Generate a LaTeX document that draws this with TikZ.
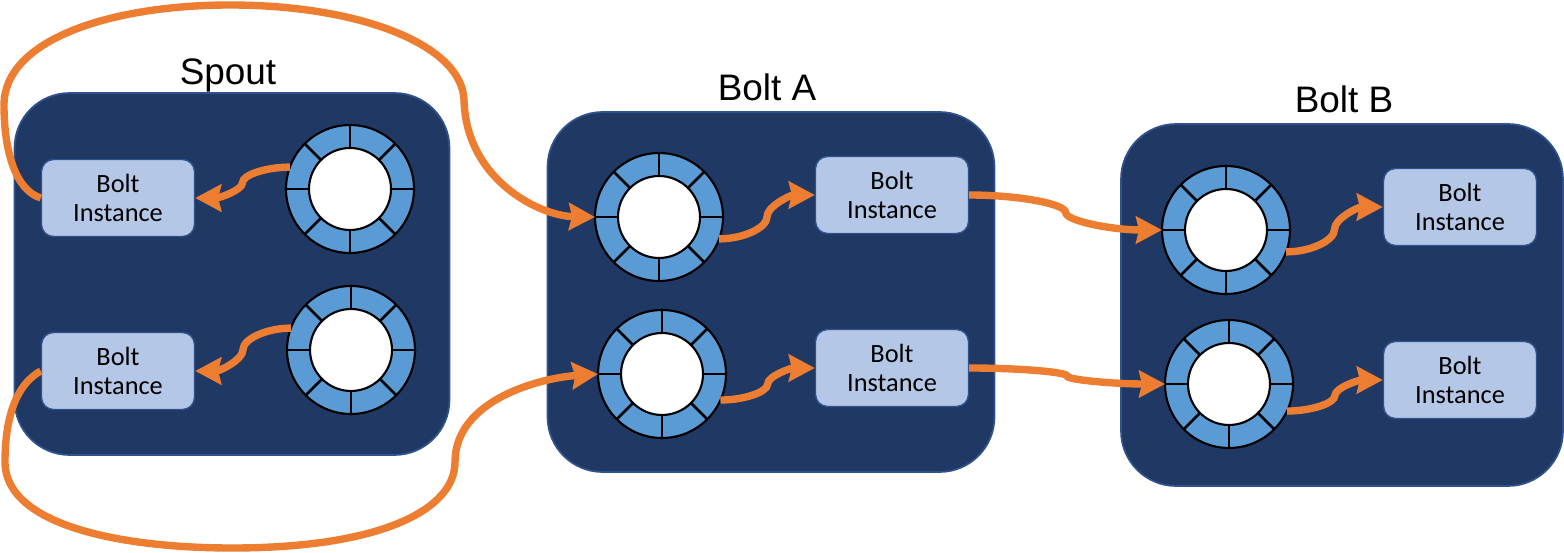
\documentclass[tikz,border=0pt]{standalone}
\usepackage{fontspec}
\setmainfont{Carlito}
\newfontfamily\titlefont{Liberation Sans}
\usetikzlibrary{arrows.meta,calc}

\definecolor{navy}{HTML}{203864}
\definecolor{edgeblue}{HTML}{2F528F}
\definecolor{lightblue}{HTML}{B4C7E7}
\definecolor{ringblue}{HTML}{5B9BD5}
\definecolor{flow}{HTML}{ED7D31}

\tikzset{
  stage/.style={rectangle, rounded corners=1.1cm, fill=navy, draw=edgeblue, line width=1pt},
  instance/.style={rectangle, rounded corners=0.24cm, fill=lightblue, draw=edgeblue,
    line width=0.8pt, minimum width=3.06cm, minimum height=1.54cm, align=center,
    font=\fontsize{15}{16.5}\selectfont},
  queue/.style={circle, fill=ringblue, draw=black, line width=1.2pt,
    minimum size=2.56cm, inner sep=0pt, outer sep=0pt},
  title/.style={font=\titlefont\fontsize{21}{24}\selectfont, anchor=base},
  flowline/.style={flow, line width=4.2pt,
    -{Stealth[length=0.52cm,width=0.54cm,inset=0.06cm]}},
  wiggle/.style={to path={let \p1=(\tikztostart), \p2=(\tikztotarget) in
    .. controls ({0.75*\x1+0.25*\x2},\y1) and ({0.5*\x1+0.5*\x2},{0.75*\y1+0.25*\y2})
    .. ({0.5*\x1+0.5*\x2},{0.5*\y1+0.5*\y2})
    .. controls ({0.5*\x1+0.5*\x2},{0.25*\y1+0.75*\y2}) and ({0.25*\x1+0.75*\x2},\y2)
    .. (\tikztotarget)}}
}

\begin{document}
\begin{tikzpicture}[x=0.02cm,y=-0.02cm]
  \useasboundingbox (0,0) rectangle (1564,553);

  % stages
  \node[stage, minimum width=8.7cm, minimum height=7.24cm] (spout) at (232,274) {};
  \node[stage, minimum width=8.94cm, minimum height=7.2cm] (boltA) at (771,292) {};
  \node[stage, minimum width=8.84cm, minimum height=7.24cm] (boltB) at (1342,305) {};

  \node[title] (tS) at (228,85) {Spout};
  \node[title] (tA) at (767,101) {Bolt A};
  \node[title] (tB) at (1344,113) {Bolt B};

  % bolt instances
  \node[instance] (bS1) at (118,198) {Bolt\\Instance};
  \node[instance] (bS2) at (118,371) {Bolt\\Instance};
  \node[instance] (bA1) at (892,195) {Bolt\\Instance};
  \node[instance] (bA2) at (892,368) {Bolt\\Instance};
  \node[instance] (bB1) at (1460,207) {Bolt\\Instance};
  \node[instance] (bB2) at (1460,380) {Bolt\\Instance};

  % queues
  \node[queue] (qS1) at (350,189) {};
  \node[queue] (qS2) at (351,350) {};
  \node[queue] (qA1) at (659,217) {};
  \node[queue] (qA2) at (662,374) {};
  \node[queue] (qB1) at (1226,230) {};
  \node[queue] (qB2) at (1229,384) {};
  \foreach \q in {qS1,qS2,qA1,qA2,qB1,qB2} {
    \foreach \a in {0,45,...,315}
      \draw[line width=1.5pt] (\q.center) ++(\a:0.82cm) -- (\q.\a);
    \draw[fill=white, line width=1.2pt] (\q.center) circle [radius=0.82cm];
  }

  % flows
  \draw[flowline] (qS1.160) to[wiggle] (bS1.east);
  \draw[flowline] (qS2.160) to[wiggle] (bS2.east);
  \draw[flowline] (qA1.-20) to[wiggle] (bA1.west);
  \draw[flowline] (qA2.-24) to[wiggle] (bA2.west);
  \draw[flowline] (qB1.-20) to[wiggle] (bB1.west);
  \draw[flowline] (qB2.-25) to[wiggle] (bB2.west);
  \draw[flowline] (bA1.east) to[wiggle] (qB1.west);
  \draw[flowline] (bA2.east) to[wiggle] (qB2.west);

  \draw[flowline] (bS1.west) .. controls (15,190) and (4,150) .. (4,105)
    .. controls (4,40) and (110,5) .. (230,5)
    .. controls (360,5) and (462,45) .. (464,100)
    .. controls (466,180) and (540,216) .. (qA1.west);
  \draw[flowline] (bS2.west) .. controls (15,385) and (5,420) .. (5,462)
    .. controls (5,525) and (120,548) .. (232,548)
    .. controls (380,548) and (455,510) .. (455,462)
    .. controls (455,400) and (540,378) .. (qA2.west);
\end{tikzpicture}
\end{document}
